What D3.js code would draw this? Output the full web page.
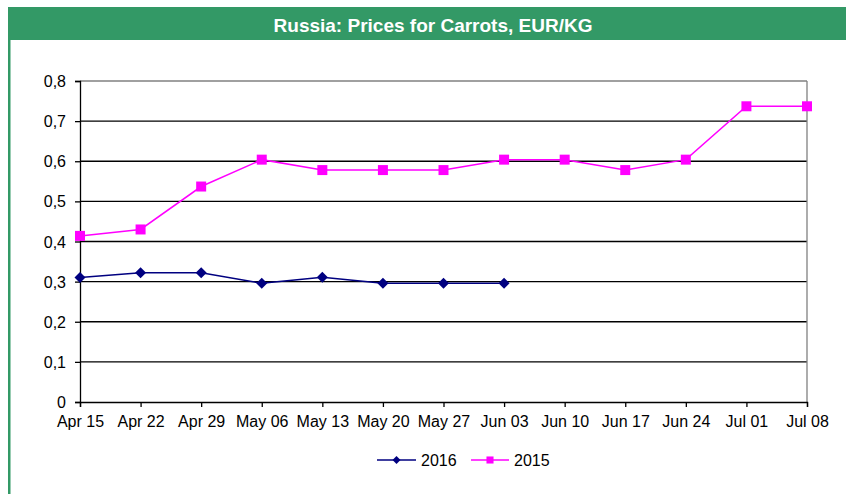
<!DOCTYPE html>
<html><head><meta charset="utf-8">
<script src="https://cdn.jsdelivr.net/npm/d3@7/dist/d3.min.js"></script>
<style>body{margin:0;background:#fff}svg{display:block}</style>
</head><body>
<svg id="c" width="846" height="494"></svg>
<script>
const categories = ["Apr 15","Apr 22","Apr 29","May 06","May 13","May 20","May 27","Jun 03","Jun 10","Jun 17","Jun 24","Jul 01","Jul 08"];
const values2016 = [0.31,0.322,0.322,0.296,0.311,0.296,0.296,0.296];
const values2015 = [0.414,0.43,0.537,0.604,0.578,0.578,0.578,0.604,0.604,0.578,0.604,0.737,0.737];
const yTicks = [0,0.1,0.2,0.3,0.4,0.5,0.6,0.7,0.8];
const seriesNames = ["2016","2015"];
const title = "Russia: Prices for Carrots, EUR/KG";

const svg = d3.select("#c");
const font = "'Liberation Sans', Arial, sans-serif";
// frame
svg.append("rect").attr("x",8).attr("y",7).attr("width",838).attr("height",33).attr("fill","#339966");
svg.append("rect").attr("x",8).attr("y",40).attr("width",2.5).attr("height",454).attr("fill","#339966");
svg.append("text").attr("x",433).attr("y",31.5).attr("text-anchor","middle")
  .attr("font-family",font).attr("font-weight","bold").attr("font-size",19).attr("fill","#fff").text(title);

const x = d3.scalePoint().domain(categories).range([80,807]);
const y = d3.scaleLinear().domain([0,0.8]).range([402,81]);

// gridlines
const g = svg.append("g");
g.selectAll("line.grid").data(yTicks.filter(d=>d>0)).enter().append("line")
  .attr("x1",80).attr("x2",807).attr("y1",d=>y(d)).attr("y2",d=>y(d))
  .attr("stroke",d=>d===0.8?"#808080":"#000").attr("stroke-width",1.3);
g.append("line").attr("x1",807).attr("x2",807).attr("y1",y(0.8)).attr("y2",y(0))
  .attr("stroke","#808080").attr("stroke-width",1.3);

// axes
const fmt = d => d===0 ? "0" : d3.format(".1f")(d).replace(".",",");
const ya = svg.append("g").attr("transform","translate(80,0)")
  .call(d3.axisLeft(y).tickValues(yTicks).tickFormat(fmt).tickSize(5).tickPadding(9));
const xa = svg.append("g").attr("transform","translate(0,402)")
  .call(d3.axisBottom(x).tickSize(5).tickPadding(9));
[ya,xa].forEach(a=>{
  a.select(".domain").attr("stroke","#000").attr("stroke-width",1.3);
  a.selectAll(".tick line").attr("stroke","#000").attr("stroke-width",1.3);
  a.selectAll("text").attr("font-family",font).attr("font-size",16).attr("fill","#000");
});
ya.selectAll("text").attr("dy","0.35em");

// series
const line = d3.line().x((d,i)=>x(categories[i])).y(d=>y(d));
svg.append("path").datum(values2015).attr("d",line).attr("fill","none").attr("stroke","#ff00ff").attr("stroke-width",1.5);
svg.append("path").datum(values2016).attr("d",line).attr("fill","none").attr("stroke","#000080").attr("stroke-width",1.5);
const sq = d3.symbol().type(d3.symbolSquare).size(100);
const diaPath = r => `M0,${-r}L${r},0L0,${r}L${-r},0Z`;
svg.selectAll("path.m15").data(values2015).enter().append("path")
  .attr("transform",(d,i)=>`translate(${x(categories[i])},${y(d)})`).attr("d",sq).attr("fill","#ff00ff");
svg.selectAll("path.m16").data(values2016).enter().append("path")
  .attr("transform",(d,i)=>`translate(${x(categories[i])},${y(d)})`).attr("d",diaPath(5.5)).attr("fill","#000080");

// legend
const leg = [{name:seriesNames[0],x1:377,x2:416,c:"#000080",sym:diaPath(4)},
             {name:seriesNames[1],x1:471,x2:509,c:"#ff00ff",sym:d3.symbol().type(d3.symbolSquare).size(50)()}];
leg.forEach(l=>{
  svg.append("line").attr("x1",l.x1).attr("x2",l.x2).attr("y1",460).attr("y2",460).attr("stroke",l.c).attr("stroke-width",1.5);
  svg.append("path").attr("transform",`translate(${(l.x1+l.x2)/2},460)`).attr("d",l.sym).attr("fill",l.c);
  svg.append("text").attr("x",l.x2+5).attr("y",465.5).attr("font-family",font).attr("font-size",16).text(l.name);
});
</script>
</body></html>
